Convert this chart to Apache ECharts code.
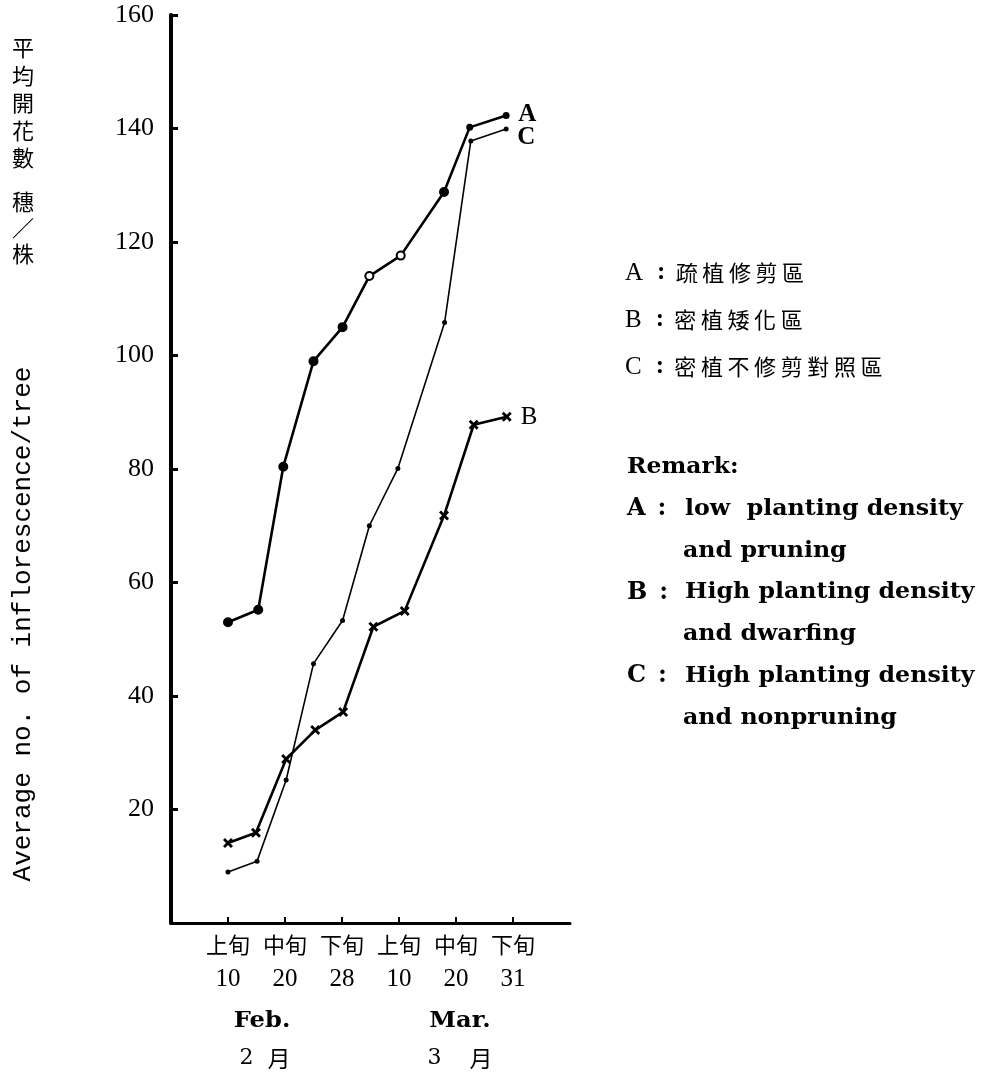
<!DOCTYPE html>
<html>
<head>
<meta charset="utf-8">
<script src="https://cdn.jsdelivr.net/npm/echarts@6/dist/echarts.min.js"></script>
<style>html,body{margin:0;padding:0;background:#fff;}#c{width:987px;height:1075px;}</style>
</head>
<body>
<div id="c"></div>
<script>
// ---- data ----
const tickPeriods = ['上旬', '中旬', '下旬', '上旬', '中旬', '下旬'];
const tickDays = ['10', '20', '28', '10', '20', '31'];
const yTicks = [20, 40, 60, 80, 100, 120, 140, 160];

const xA = [0, 0.53, 0.97, 1.50, 2.01, 2.48, 3.03, 3.79, 4.24, 4.88];
const yA = [53, 55.2, 80.4, 99, 105, 114, 117.6, 128.8, 140.2, 142.3];
const xB = [0, 0.49, 1.02, 1.53, 2.02, 2.55, 3.10, 3.79, 4.31, 4.89];
const yB = [14.1, 15.9, 28.9, 34.0, 37.2, 52.2, 55.0, 71.8, 87.8, 89.2];
const xC = [0, 0.51, 1.02, 1.50, 2.01, 2.48, 2.98, 3.80, 4.26, 4.88];
const yC = [9.0, 10.9, 25.2, 45.7, 53.3, 70.0, 80.1, 105.8, 137.8, 139.9];

const legendKeys = ['A', 'B', 'C'];
const legendZh = ['疏植修剪區', '密植矮化區', '密植不修剪對照區'];
const remarkTitle = 'Remark:';
const remarkLines = [['A', 'low  planting density'], ['', 'and pruning'], ['B', 'High planting density'], ['', 'and dwarfing'], ['C', 'High planting density'], ['', 'and nonpruning']];

// ---- chart ----
const pair = (xs, ys) => xs.map((x, i) => [x, ys[i]]);
const serif = '"Liberation Serif", "DejaVu Serif", serif';
const dserif = '"DejaVu Serif", serif';
const cjk = '"Noto Sans CJK TC", "Noto Sans CJK SC", sans-serif';
const crossPath = 'path://M2,0 L5,3 L8,0 L10,2 L7,5 L10,8 L8,10 L5,7 L2,10 L0,8 L3,5 L0,2 Z';

const chart = echarts.init(document.getElementById('c'));
const graphics = [];
// y axis name (Chinese, vertical)
graphics.push({type: 'text', x: 23, y: 34, style: {text: '平\n均\n開\n花\n數', fontSize: 22, fontFamily: cjk, lineHeight: 27.5, align: 'center', fill: '#000'}});
graphics.push({type: 'text', x: 23, y: 189, style: {text: '穗\n／\n株', fontSize: 22, fontFamily: cjk, lineHeight: 26, align: 'center', fill: '#000'}});
// y axis name (English, rotated)
graphics.push({type: 'text', x: 23, y: 624, rotation: Math.PI / 2,
  style: {text: 'Average no. of inflorescence/tree', fontSize: 26, fontFamily: '"Liberation Mono", "DejaVu Sans Mono", monospace', align: 'center', verticalAlign: 'middle', fill: '#000'}});
// months
graphics.push({type: 'text', x: 262, y: 1021, scaleX: 1.1, style: {text: 'Feb.', fontSize: 22, fontWeight: 'bold', fontFamily: dserif, align: 'center', verticalAlign: 'middle', fill: '#000'}});
graphics.push({type: 'text', x: 460, y: 1021, scaleX: 1.1, style: {text: 'Mar.', fontSize: 22, fontWeight: 'bold', fontFamily: dserif, align: 'center', verticalAlign: 'middle', fill: '#000'}});
graphics.push({type: 'text', x: 265, y: 1058, style: {text: '{n|2}{s|  }{z|月}', align: 'center', verticalAlign: 'middle', fill: '#000',
  rich: {n: {fontSize: 22, fontFamily: dserif}, s: {fontSize: 22, fontFamily: dserif}, z: {fontSize: 23, fontFamily: cjk}}}});
graphics.push({type: 'text', x: 460, y: 1058, style: {text: '{n|3}{s|    }{z|月}', align: 'center', verticalAlign: 'middle', fill: '#000',
  rich: {n: {fontSize: 22, fontFamily: dserif}, s: {fontSize: 22, fontFamily: dserif}, z: {fontSize: 23, fontFamily: cjk}}}});
// legend (Chinese)
legendZh.forEach((t, i) => {
  const chars = t.split('').map(ch => '{c|' + ch + '}').join('');
  graphics.push({type: 'text', x: 625, y: 273 + i * 47, style: {
    text: '{a|' + legendKeys[i] + '}{k|:}' + chars, verticalAlign: 'middle', fill: '#000',
    rich: {a: {fontSize: 25, fontFamily: serif}, k: {fontSize: 25, fontFamily: serif, fontWeight: 'bold', padding: [0, 8, 0, 14]},
           c: {fontSize: 22, fontFamily: cjk, padding: [0, 2.3]}}}});
});
// remark
graphics.push({type: 'text', x: 627, y: 467, scaleX: 1.02, style: {text: remarkTitle, fontSize: 23, fontWeight: 'bold', fontFamily: dserif, verticalAlign: 'middle', fill: '#000'}});
remarkLines.forEach((r, i) => {
  const y = 467 + (i + 1) * 41.8;
  if (r[0]) graphics.push({type: 'text', x: 627, y: y, style: {text: '{a|' + r[0] + '}{k|:}', verticalAlign: 'middle', fill: '#000',
    rich: {a: {fontSize: 24, fontWeight: 'bold', fontFamily: dserif}, k: {fontSize: 24, fontFamily: dserif, fontWeight: 'bold', padding: [0, 0, 0, 12]}}}});
  graphics.push({type: 'text', x: r[0] ? 685 : 683, y: y, scaleX: 1.03, style: {text: r[1], fontSize: 23, fontWeight: 'bold', fontFamily: dserif, verticalAlign: 'middle', fill: '#000'}});
});

chart.setOption({
  animation: false,
  backgroundColor: '#fff',
  grid: {left: 171, top: 15, width: 399, height: 908},
  xAxis: {
    type: 'value', min: -1, max: 6, interval: 1,
    splitLine: {show: false},
    axisLine: {lineStyle: {color: '#000', width: 3}},
    axisTick: {inside: true, length: 6, lineStyle: {color: '#000', width: 2}, customValues: [0, 1, 2, 3, 4, 5]},
    axisLabel: {
      customValues: [0, 1, 2, 3, 4, 5], margin: 5,
      formatter: v => '{p|' + tickPeriods[v] + '}\n{d|' + tickDays[v] + '}',
      rich: {p: {fontSize: 22, fontFamily: cjk, color: '#000', lineHeight: 34}, d: {fontSize: 25, fontFamily: serif, color: '#000', lineHeight: 34}}
    }
  },
  yAxis: {
    type: 'value', min: 0, max: 160, interval: 20,
    splitLine: {show: false},
    axisLine: {onZero: false, lineStyle: {color: '#000', width: 4}},
    axisTick: {inside: true, length: 7, lineStyle: {color: '#000', width: 3}, customValues: yTicks},
    axisLabel: {customValues: yTicks, margin: 17, color: '#000', fontSize: 26, fontFamily: serif}
  },
  series: [
    {
      name: 'A', type: 'line', data: pair(xA, yA), showAllSymbol: true,
      lineStyle: {color: '#000', width: 2.6},
      itemStyle: {color: '#000', borderColor: '#000', borderWidth: 2},
      symbol: (v, p) => (p.dataIndex === 5 || p.dataIndex === 6) ? 'emptyCircle' : 'circle',
      symbolSize: (v, p) => (p.dataIndex === 5 || p.dataIndex === 6) ? 8 : (p.dataIndex >= 8 ? 5 : 8),
      endLabel: {show: true, formatter: 'A', fontFamily: serif, fontWeight: 'bold', fontSize: 25, color: '#000', offset: [4, -1]}
    },
    {
      name: 'B', type: 'line', data: pair(xB, yB), showAllSymbol: true,
      lineStyle: {color: '#000', width: 2.6},
      itemStyle: {color: '#000'},
      symbol: crossPath, symbolSize: 10,
      endLabel: {show: true, formatter: 'B', fontFamily: serif, fontSize: 25, color: '#000', offset: [6, 1]}
    },
    {
      name: 'C', type: 'line', data: pair(xC, yC), showAllSymbol: true,
      lineStyle: {color: '#000', width: 1.6},
      itemStyle: {color: '#000'},
      symbol: 'circle', symbolSize: 5,
      endLabel: {show: true, formatter: 'C', fontFamily: serif, fontWeight: 'bold', fontSize: 25, color: '#000', offset: [3, 8]}
    }
  ],
  graphic: graphics
});
</script>
</body>
</html>
